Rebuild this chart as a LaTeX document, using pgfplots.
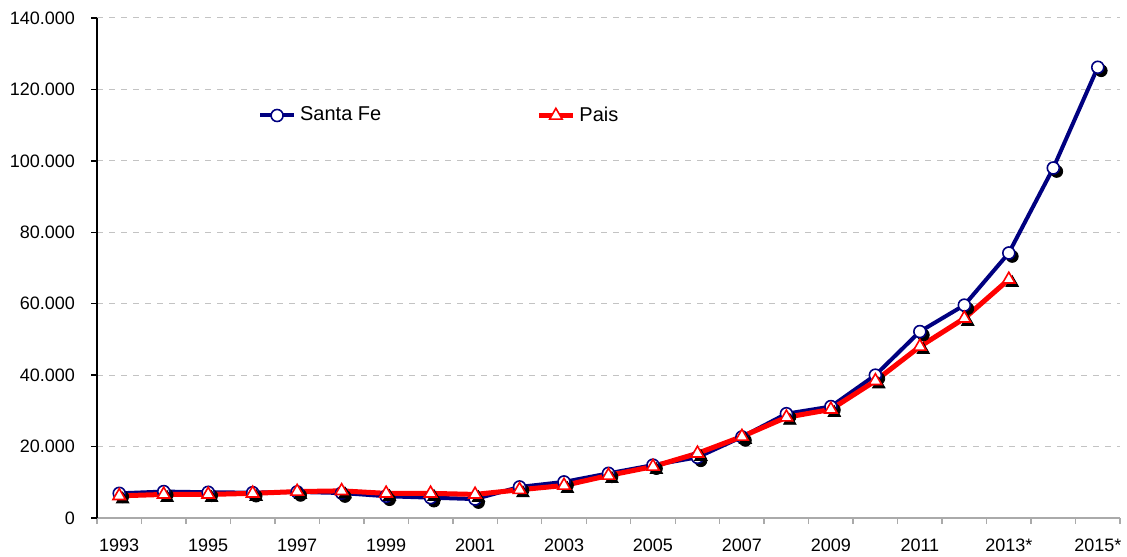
\documentclass[border=0pt]{standalone}
\usepackage{fontspec}
\setmainfont{Liberation Sans}
\usepackage{pgfplots}
\pgfplotsset{compat=1.18}
\definecolor{sfblue}{RGB}{0,0,128}
\definecolor{gridgray}{RGB}{195,195,195}
\definecolor{axgray}{RGB}{170,170,170}

\begin{document}
\begin{tikzpicture}
\useasboundingbox (-48.5pt,-19pt) rectangle (515pt,259pt);
\begin{axis}[
  at={(0,0)}, anchor=south west,
  scale only axis, width=511.5pt, height=250pt,
  xmin=-0.5, xmax=22.5, ymin=0, ymax=140000,
  axis x line*=bottom, axis y line*=left,
  x axis line style={axgray, line width=0.7pt},
  y axis line style={black, line width=0.7pt},
  tick align=outside,
  xtick={0,2,...,22},
  xticklabels={1993,1995,1997,1999,2001,2003,2005,2007,2009,2011,2013*,2015*},
  major x tick style={draw=none},
  minor xtick={-0.5,0.5,...,22.5},
  minor x tick style={axgray, line width=0.7pt},
  minor tick length=3pt,
  ytick={0,20000,...,140000},
  y tick style={black, line width=0.7pt},
  major tick length=3pt,
  ymajorgrids,
  major y grid style={dashed, gridgray, line width=0.5pt},
  scaled y ticks=false,
  /pgf/number format/.cd, fixed, 1000 sep={.}, assume math mode=true,
  /pgfplots/.cd,
  yticklabel style={font=\fontsize{9}{10}\selectfont, xshift=-4.5pt},
  xticklabel style={font=\fontsize{9}{10}\selectfont, yshift=-4pt},
  legend style={draw=none, fill=none, inner sep=0pt, at={(0.157,0.805)}, anchor=west,
    font=\fontsize{10}{12}\selectfont, legend columns=2,
    /tikz/every even column/.append style={column sep=75.5pt}},
  legend cell align=left,
]
% Santa Fe shadow
\addplot[forget plot, only marks, mark=*, mark size=3pt, black,
  mark options={xshift=1.7pt, yshift=-1.7pt}] table {
x y
0 6900
1 7400
2 7200
3 7100
4 7300
5 7000
6 6100
7 5700
8 5300
9 8700
10 10100
11 12500
12 14800
13 17000
14 22700
15 29200
16 31200
17 40000
18 52200
19 59600
20 74200
21 98000
22 126200
};
% Santa Fe
\addplot[sfblue, line width=2pt, mark=*, mark size=3pt,
  mark options={fill=white, draw=sfblue, line width=0.8pt}] table {
x y
0 6900
1 7400
2 7200
3 7100
4 7300
5 7000
6 6100
7 5700
8 5300
9 8700
10 10100
11 12500
12 14800
13 17000
14 22700
15 29200
16 31200
17 40000
18 52200
19 59600
20 74200
21 98000
22 126200
};
\addlegendentry{Santa Fe}
% Pais shadow
\addplot[forget plot, only marks, mark=triangle*, mark size=3.6pt, black,
  mark options={xshift=1.7pt, yshift=-1.7pt}] table {
x y
0 6200
1 6600
2 6600
3 6900
4 7400
5 7600
6 6900
7 6900
8 6600
9 7900
10 9100
11 11900
12 14400
13 18100
14 22800
15 28200
16 30400
17 38400
18 48000
19 55900
20 66800
};
% Pais
\addplot[red, line width=2.5pt, mark=triangle*, mark size=3.6pt,
  mark options={fill=white, draw=red, line width=0.8pt}] table {
x y
0 6200
1 6600
2 6600
3 6900
4 7400
5 7600
6 6900
7 6900
8 6600
9 7900
10 9100
11 11900
12 14400
13 18100
14 22800
15 28200
16 30400
17 38400
18 48000
19 55900
20 66800
};
\addlegendentry{Pais}
\end{axis}
\end{tikzpicture}
\end{document}
